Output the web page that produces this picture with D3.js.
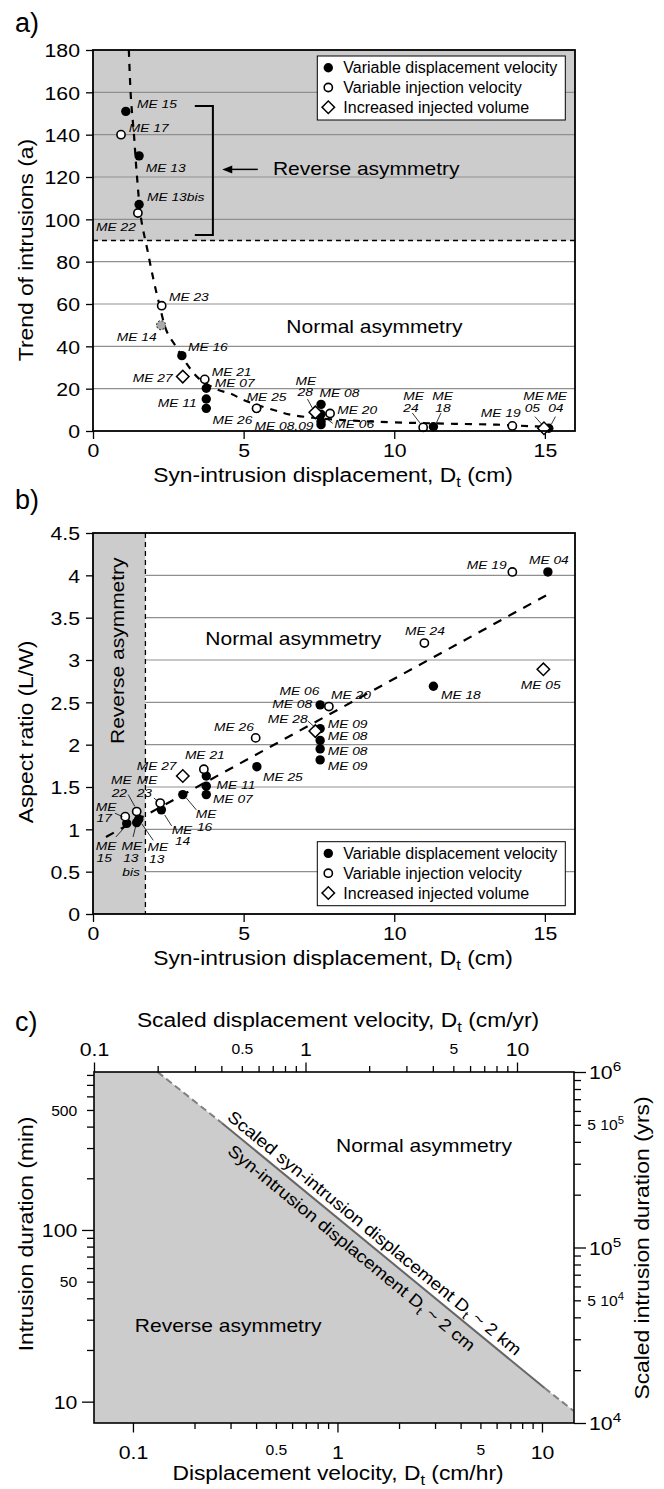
<!DOCTYPE html>
<meta charset="utf-8">
<style>
body { margin: 0; background: #fff; }
svg { font-family: "Liberation Sans", Arial, sans-serif; }
</style>
<svg width="664" height="1489"></svg>
<script src="https://d3js.org/d3.v7.min.js"></script>
<script>

// ---------- data ----------
var legendNames = ["Variable displacement velocity", "Variable injection velocity", "Increased injected volume"];
var legendKinds = ["filled", "open", "diamond"];

// panel a : trend of intrusions vs syn-intrusion displacement
var aXTicks = [0, 5, 10, 15];
var aYTicks = [0, 20, 40, 60, 80, 100, 120, 140, 160, 180];
var aGrid = [20, 40, 60, 80, 100, 120, 140, 160];
var aReverseY = 90;
var aVdvX = [1.09, 1.53, 1.53, 2.95, 3.76, 3.76, 3.76, 5.43, 7.57, 7.57, 7.57, 7.57, 11.3, 15.13];
var aVdvY = [151, 130, 107, 35.6, 20.2, 15.1, 10.7, 10.7, 12.6, 7.9, 4.5, 3.0, 2.0, 1.3];
var aVivX = [0.93, 1.49, 2.28, 3.71, 5.43, 7.87, 10.96, 13.92];
var aVivY = [140, 103, 59.2, 24.4, 10.7, 8.3, 1.7, 2.4];
var aIivX = [2.98, 7.38, 14.97];
var aIivY = [25.7, 8.8, 1.3];
var aUncX = [2.26];           // ME 14, uncertain
var aUncY = [50];
var aFitX = [1.19, 1.26, 1.36, 1.45, 1.6, 1.8, 2.0, 2.2, 2.45, 2.75, 3.1, 3.5, 4.1, 4.6, 5.0, 6.0, 6.6, 7.5, 8.5, 9.4, 10.7, 12.0, 13.4, 14.5, 15.1];
var aFitY = [180, 157, 140, 122, 100, 86, 72, 60, 47, 40, 32, 25, 19.7, 17.5, 14.6, 9.9, 7.6, 6.0, 5.0, 4.4, 3.8, 3.4, 3.0, 2.3, 2.0];
var aLabels = [["ME 15", 1.46, 152.6], ["ME 17", 1.19, 141.1], ["ME 13", 1.75, 122.5], ["ME 13bis", 1.79, 108.8],
  ["ME 22", 0.10, 94.3], ["ME 23", 2.52, 61.5], ["ME 14", 0.79, 42.4], ["ME 16", 3.15, 37.9], ["ME 27", 1.32, 23.0],
  ["ME 21", 3.94, 26.1], ["ME 07", 4.04, 20.6], ["ME 11", 2.15, 11.2], ["ME 25", 5.10, 14.3], ["ME 26", 3.97, 3.3],
  ["ME 08,09", 5.36, 0.7], ["ME", 6.72, 21.6], ["28", 6.79, 16.4], ["ME 08", 7.52, 15.9], ["ME 20", 8.11, 8.0],
  ["ME 06", 8.01, 1.4], ["ME", 10.30, 14.6], ["24", 10.30, 9.0], ["ME", 11.26, 14.6], ["18", 11.36, 9.0],
  ["ME 19", 12.87, 6.8], ["ME", 14.28, 14.6], ["05", 14.33, 9.0], ["ME", 15.05, 14.6], ["04", 15.11, 9.0]];
var aLeaders = [[7.12, 15.1, 7.28, 10.9], [7.74, 6.0, 7.96, 3.6], [10.60, 8.5, 10.88, 3.3], [11.55, 8.5, 11.38, 3.3],
  [14.67, 6.8, 14.89, 3.3], [15.35, 6.8, 15.22, 3.3]];
var aBracketX = [3.38, 3.98];
var aBracketY = [153.5, 92.6];
var aArrowX = [5.47, 4.29];
var aArrowY = 123.6;

// panel b : aspect ratio vs syn-intrusion displacement
var bXTicks = [0, 5, 10, 15];
var bYTicks = [0, 0.5, 1, 1.5, 2, 2.5, 3, 3.5, 4, 4.5];
var bGrid = [0.5, 1, 1.5, 2, 2.5, 3, 3.5, 4];
var bReverseX = 1.74;
var bVdvX = [1.12, 1.52, 1.45, 2.27, 2.98, 3.76, 3.76, 3.76, 5.44, 7.54, 7.54, 7.54, 7.54, 7.54, 11.3, 15.1];
var bVdvY = [1.07, 1.12, 1.08, 1.23, 1.41, 1.41, 1.51, 1.63, 1.74, 2.47, 2.19, 2.05, 1.95, 1.82, 2.69, 4.04];
var bVivX = [1.07, 1.45, 2.23, 3.68, 5.4, 7.83, 11.0, 13.92];
var bVivY = [1.15, 1.21, 1.31, 1.71, 2.08, 2.45, 3.2, 4.04];
var bIivX = [2.98, 7.38, 14.95];
var bIivY = [1.63, 2.16, 2.89];
var bFitX = [0.43, 15.13];
var bFitY = [0.91, 3.78];
var bLabels = [["ME 19", 12.41, 4.07], ["ME 04", 14.47, 4.13], ["ME 24", 10.36, 3.30], ["ME 05", 14.20, 2.66],
  ["ME 18", 11.55, 2.54], ["ME 06", 6.19, 2.59], ["ME 20", 7.90, 2.54], ["ME 08", 5.95, 2.43], ["ME 28", 5.80, 2.26],
  ["ME 09", 7.79, 2.20], ["ME 08", 7.79, 2.06], ["ME 08", 7.79, 1.88], ["ME 09", 7.79, 1.70], ["ME 26", 4.02, 2.16],
  ["ME 25", 5.64, 1.57], ["ME 21", 3.05, 1.83], ["ME 27", 1.45, 1.70], ["ME 11", 4.10, 1.48], ["ME 07", 3.98, 1.31],
  ["ME", 3.41, 1.13], ["16", 3.45, 0.98], ["ME", 2.61, 0.94], ["14", 2.72, 0.81], ["ME", 0.60, 1.53], ["22", 0.62, 1.38],
  ["ME", 1.45, 1.53], ["23", 1.45, 1.38], ["ME", 0.09, 1.22], ["17", 0.12, 1.09], ["ME", 0.09, 0.76], ["15", 0.12, 0.61],
  ["ME", 0.95, 0.76], ["13", 1.00, 0.61], ["bis", 0.97, 0.45], ["ME", 1.81, 0.75], ["13", 1.86, 0.60]];
var bLeaders = [[0.73, 1.19, 0.98, 1.15], [1.17, 1.41, 1.39, 1.27], [2.02, 1.37, 2.16, 1.33], [3.43, 1.23, 3.10, 1.37],
  [2.61, 1.04, 2.38, 1.17], [0.76, 0.91, 1.09, 1.04], [1.33, 0.91, 1.42, 1.04], [2.0, 0.87, 1.61, 1.07], [7.13, 2.28, 7.35, 2.21]];

// panel c : intrusion duration vs displacement velocity (log-log)
var cVelDomain = [0.0645, 14.34];
var cScVelDomain = [0.1, 18.6];
var cDurDomain = [7.51, 832];
var cScDurDomain = [1e4, 1e6];
var cVelTicks = [0.1, 0.2, 0.3, 0.4, 0.5, 0.6, 0.7, 0.8, 0.9, 1, 2, 3, 4, 5, 6, 7, 8, 9, 10];
var cVelLabels = [0.1, 0.5, 1, 5, 10];
var cScVelTicks = [0.1, 0.2, 0.3, 0.4, 0.5, 0.6, 0.7, 0.8, 0.9, 1, 2, 3, 4, 5, 6, 7, 8, 9, 10];
var cScVelLabels = [0.1, 0.5, 1, 5, 10];
var cDurTicks = [10, 20, 30, 40, 50, 60, 70, 80, 90, 100, 200, 300, 400, 500, 600, 700, 800];
var cDurLabels = [10, 50, 100, 500];
var cScDurTicks = [1e4, 2e4, 3e4, 4e4, 5e4, 6e4, 7e4, 8e4, 9e4, 1e5, 2e5, 3e5, 4e5, 5e5, 6e5, 7e5, 8e5, 9e5, 1e6];
var cScDurLabels = [1e4, 5e4, 1e5, 5e5, 1e6];
var cBoundV = [0.132, 0.272, 10.3, 14.3];   // boundary D_t ~ 2 cm
var cBoundT = [832, 420, 12.0, 8.83];
var cNormalPos = [2.65, 286];
var cReversePos = [0.292, 25.6];

// ---------- layout ----------
var L = 93, R = 575;
var aTop = 50, aBot = 431;
var bTop = 533, bBot = 914;
var cL = 94, cR = 574, cTop = 1072, cBot = 1423;
var GRAY = "#cccccc";

var svg = d3.select("svg");

function addText(g, x, y, content, o) {
  o = o || {};
  var size = o.size || 17;
  var t = g.append("text")
    .attr("transform", "translate(" + x + "," + y + ")" + (o.rot ? " rotate(" + o.rot + ")" : "") + " scale(" + (o.sx || 1) + ",1)")
    .attr("font-size", size)
    .attr("fill", "#000")
    .attr("text-anchor", o.anchor || "start");
  if (o.italic) t.attr("font-style", "italic");
  var parts = typeof content === "string" ? [content] : content;
  var shift = 0;
  parts.forEach(function(p) {
    var s = typeof p === "string" ? { t: p } : p;
    var ts = t.append("tspan").text(s.t);
    var target = s.sub ? 0.25 * size : s.sup ? -0.42 * size : 0;
    if (target !== shift) { ts.attr("dy", target - shift); shift = target; }
    if (s.sub || s.sup) ts.attr("font-size", size * 0.72);
  });
  return t;
}

function marker(g, cx, cy, kind) {
  if (kind === "diamond") {
    g.append("path").attr("d", d3.symbol(d3.symbolSquare, 78)())
      .attr("transform", "translate(" + cx + "," + cy + ") rotate(45)")
      .attr("fill", "#fff").attr("stroke", "#000").attr("stroke-width", 1.5);
  } else if (kind === "filled") {
    g.append("circle").attr("cx", cx).attr("cy", cy).attr("r", 4.7).attr("fill", "#000");
  } else if (kind === "open") {
    g.append("circle").attr("cx", cx).attr("cy", cy).attr("r", 4.1)
      .attr("fill", "#fff").attr("stroke", "#000").attr("stroke-width", 1.6);
  } else {
    g.append("circle").attr("cx", cx).attr("cy", cy).attr("r", 4.5)
      .attr("fill", "#aaa").attr("stroke", "#444").attr("stroke-width", 1.1).attr("stroke-dasharray", "2,1.5");
  }
}

function points(g, xs, ys, kind, x, y) {
  d3.zip(xs, ys).forEach(function(d) { marker(g, x(d[0]), y(d[1]), kind); });
}

function legend(g, x0, y0) {
  var lg = g.append("g").attr("transform", "translate(" + x0 + "," + y0 + ")");
  lg.append("rect").attr("width", 248).attr("height", 64)
    .attr("fill", "#fff").attr("stroke", "#000").attr("stroke-width", 1);
  legendNames.forEach(function(name, i) {
    var cy = 11.7 + i * 19.8;
    marker(lg, 11, cy, legendKinds[i]);
    addText(lg, 26, cy + 5.7, name, { size: 16 });
  });
}

function tidyAxis(g, side, size, sx, off) {
  g.attr("font-family", null).attr("font-size", size);
  g.select(".domain").remove();
  g.selectAll(".tick line").attr("stroke-width", 1.3);
  g.selectAll(".tick text").each(function(d) {
    var t = d3.select(this);
    var o = typeof off === "function" ? off(d) : off;
    t.attr("x", null).attr("y", null).attr("dy", null);
    if (side === "left" || side === "right") {
      t.attr("dy", "0.36em").attr("transform", "translate(" + o + ",0) scale(" + sx + ",1)");
    } else {
      t.attr("transform", "translate(0," + o + ") scale(" + sx + ",1)");
    }
  });
}

function labels(g, list, x, y) {
  list.forEach(function(d) {
    addText(g, x(d[1]), y(d[2]), d[0], { size: 11.5, sx: 1.2, italic: true });
  });
}

function leaders(g, list, x, y) {
  g.selectAll(null).data(list).enter().append("line")
    .attr("x1", function(d) { return x(d[0]); }).attr("y1", function(d) { return y(d[1]); })
    .attr("x2", function(d) { return x(d[2]); }).attr("y2", function(d) { return y(d[3]); })
    .attr("stroke", "#000").attr("stroke-width", 0.8);
}

var TICK = 19, TSX = 1.12, TITLE = 19.5, TTSX = 1.17, REG = 17.5, RSX = 1.2;

// ================= panel a =================
var xA = d3.scaleLinear().domain([0, 16]).range([L, R]);
var yA = d3.scaleLinear().domain([0, 180]).range([aBot, aTop]);
var ga = svg.append("g");

ga.append("rect").attr("x", L).attr("y", aTop).attr("width", R - L)
  .attr("height", yA(aReverseY) - aTop).attr("fill", GRAY);
ga.selectAll(null).data(aGrid).enter().append("line")
  .attr("x1", L).attr("x2", R).attr("y1", yA).attr("y2", yA)
  .attr("stroke", "#8f8f8f").attr("stroke-width", 1.1);
ga.append("line").attr("x1", L).attr("x2", R).attr("y1", yA(aReverseY)).attr("y2", yA(aReverseY))
  .attr("stroke", "#000").attr("stroke-width", 1.3).attr("stroke-dasharray", "5,4");

var axAx = ga.append("g").attr("transform", "translate(0," + aBot + ")")
  .call(d3.axisBottom(xA).tickValues(aXTicks).tickSize(8).tickSizeOuter(0).tickFormat(d3.format("d")));
tidyAxis(axAx, "bottom", TICK, TSX, 26);
var axAy = ga.append("g").attr("transform", "translate(" + L + ",0)")
  .call(d3.axisLeft(yA).tickValues(aYTicks).tickSize(7).tickSizeOuter(0).tickFormat(d3.format("d")));
tidyAxis(axAy, "left", TICK, TSX, -13);

svg.append("defs").append("clipPath").attr("id", "clipA")
  .append("rect").attr("x", L).attr("y", aTop).attr("width", R - L).attr("height", aBot - aTop);
ga.append("path").attr("clip-path", "url(#clipA)")
  .attr("d", d3.line().x(function(d) { return xA(d[0]); }).y(function(d) { return yA(d[1]); })
    .curve(d3.curveCatmullRom)(d3.zip(aFitX, aFitY)))
  .attr("fill", "none").attr("stroke", "#000").attr("stroke-width", 2.2).attr("stroke-dasharray", "7,7");

// bracket and arrow
ga.append("path")
  .attr("d", "M" + xA(aBracketX[0]) + "," + yA(aBracketY[0]) + "H" + xA(aBracketX[1]) +
    "V" + yA(aBracketY[1]) + "H" + xA(aBracketX[0]))
  .attr("fill", "none").attr("stroke", "#000").attr("stroke-width", 2);
ga.append("line").attr("x1", xA(aArrowX[0])).attr("x2", xA(aArrowX[1]) + 8)
  .attr("y1", yA(aArrowY)).attr("y2", yA(aArrowY)).attr("stroke", "#000").attr("stroke-width", 1.5);
ga.append("path")
  .attr("d", "M" + xA(aArrowX[1]) + "," + yA(aArrowY) + "l10,-4l0,8z").attr("fill", "#000");

points(ga, aVdvX, aVdvY, "filled", xA, yA);
points(ga, aVivX, aVivY, "open", xA, yA);
points(ga, aIivX, aIivY, "diamond", xA, yA);
points(ga, aUncX, aUncY, "uncertain", xA, yA);
leaders(ga, aLeaders, xA, yA);
labels(ga, aLabels, xA, yA);

addText(ga, xA(9.07), yA(120.9), "Reverse asymmetry", { size: REG, sx: RSX, anchor: "middle" });
addText(ga, xA(9.34), yA(46.3), "Normal asymmetry", { size: REG, sx: RSX, anchor: "middle" });
legend(ga, R - 257.7, aTop + 6);

ga.append("rect").attr("x", L).attr("y", aTop).attr("width", R - L).attr("height", aBot - aTop)
  .attr("fill", "none").attr("stroke", "#000").attr("stroke-width", 1.8);

addText(ga, 15, 31.5, "a)", { size: 27 });
addText(ga, 333, 482, ["Syn-intrusion displacement, D", { t: "t", sub: true }, " (cm)"], { size: TITLE, sx: TTSX, anchor: "middle" });
addText(ga, 33, 250, "Trend of intrusions (a)", { size: TITLE, sx: TTSX, anchor: "middle", rot: -90 });

// ================= panel b =================
var xB = d3.scaleLinear().domain([0, 16]).range([L, R]);
var yB = d3.scaleLinear().domain([0, 4.5]).range([bBot, bTop]);
var gb = svg.append("g");

gb.selectAll(null).data(bGrid).enter().append("line")
  .attr("x1", L).attr("x2", R).attr("y1", yB).attr("y2", yB)
  .attr("stroke", "#8f8f8f").attr("stroke-width", 1.1);
gb.append("rect").attr("x", L).attr("y", bTop).attr("width", xB(bReverseX) - L)
  .attr("height", bBot - bTop).attr("fill", GRAY);
gb.append("line").attr("x1", xB(bReverseX)).attr("x2", xB(bReverseX)).attr("y1", bTop).attr("y2", bBot)
  .attr("stroke", "#000").attr("stroke-width", 1.3).attr("stroke-dasharray", "5,4");

var axBx = gb.append("g").attr("transform", "translate(0," + bBot + ")")
  .call(d3.axisBottom(xB).tickValues(bXTicks).tickSize(8).tickSizeOuter(0).tickFormat(d3.format("d")));
tidyAxis(axBx, "bottom", TICK, TSX, 26);
var axBy = gb.append("g").attr("transform", "translate(" + L + ",0)")
  .call(d3.axisLeft(yB).tickValues(bYTicks).tickSize(7).tickSizeOuter(0).tickFormat(function(d) { return String(d); }));
tidyAxis(axBy, "left", TICK, TSX, -13);

gb.append("path")
  .attr("d", d3.line().x(function(d) { return xB(d[0]); }).y(function(d) { return yB(d[1]); })(d3.zip(bFitX, bFitY)))
  .attr("fill", "none").attr("stroke", "#000").attr("stroke-width", 2.2).attr("stroke-dasharray", "9,8");

points(gb, bVdvX, bVdvY, "filled", xB, yB);
points(gb, bVivX, bVivY, "open", xB, yB);
points(gb, bIivX, bIivY, "diamond", xB, yB);
leaders(gb, bLeaders, xB, yB);
labels(gb, bLabels, xB, yB);

addText(gb, xB(6.65), yB(3.18), "Normal asymmetry", { size: REG, sx: RSX, anchor: "middle" });
addText(gb, xB(1.03), yB(3.11), "Reverse asymmetry", { size: REG, sx: RSX, anchor: "middle", rot: -90 });
legend(gb, R - 257.7, bBot - 72.3);

gb.append("rect").attr("x", L).attr("y", bTop).attr("width", R - L).attr("height", bBot - bTop)
  .attr("fill", "none").attr("stroke", "#000").attr("stroke-width", 1.8);

addText(gb, 15, 509, "b)", { size: 27 });
addText(gb, 333, 965, ["Syn-intrusion displacement, D", { t: "t", sub: true }, " (cm)"], { size: TITLE, sx: TTSX, anchor: "middle" });
addText(gb, 33, 732, "Aspect ratio (L/W)", { size: TITLE, sx: TTSX, anchor: "middle", rot: -90 });

// ================= panel c =================
var xC = d3.scaleLog().domain(cVelDomain).range([cL, cR]);
var xC2 = d3.scaleLog().domain(cScVelDomain).range([cL, cR]);
var yC = d3.scaleLog().domain(cDurDomain).range([cBot, cTop]);
var yC2 = d3.scaleLog().domain(cScDurDomain).range([cBot, cTop]);
var gc = svg.append("g");

var bound = d3.zip(cBoundV, cBoundT);
var poly = [[cVelDomain[0], cDurDomain[1]]].concat(bound)
  .concat([[cVelDomain[1], cDurDomain[0]], [cVelDomain[0], cDurDomain[0]]]);
var lineC = d3.line().x(function(d) { return xC(d[0]); }).y(function(d) { return yC(d[1]); });
gc.append("path").attr("d", lineC(poly) + "Z").attr("fill", GRAY);
gc.append("path").attr("d", lineC(bound.slice(0, 2)) + lineC(bound.slice(2, 4)))
  .attr("fill", "none").attr("stroke", "#808080").attr("stroke-width", 2).attr("stroke-dasharray", "7,4");
gc.append("path").attr("d", lineC(bound.slice(1, 3)))
  .attr("fill", "none").attr("stroke", "#666").attr("stroke-width", 2);

function isLab(list, d) { return list.some(function(v) { return Math.abs(v - d) / v < 1e-6; }); }
function isMajor(d) { return Math.abs(Math.log10(d) - Math.round(Math.log10(d))) < 1e-6; }
function lab(list) { return function(d) { return isLab(list, d) ? String(d) : ""; }; }

var axCb = gc.append("g").attr("transform", "translate(0," + cBot + ")")
  .call(d3.axisBottom(xC).tickValues(cVelTicks).tickSizeOuter(0).tickFormat(lab(cVelLabels)));
tidyAxis(axCb, "bottom", TICK, TSX, function(d) { return isMajor(d) ? 36 : 32; });
axCb.selectAll(".tick line").attr("y2", function(d) { return isMajor(d) ? 9.5 : 6; });
axCb.selectAll(".tick text").attr("font-size", function(d) { return isMajor(d) ? TICK : 14; });

var axCt = gc.append("g").attr("transform", "translate(0," + cTop + ")")
  .call(d3.axisTop(xC2).tickValues(cScVelTicks).tickSizeOuter(0).tickFormat(lab(cScVelLabels)));
tidyAxis(axCt, "top", TICK, TSX, function(d) { return isMajor(d) ? -16 : -18; });
axCt.selectAll(".tick line").attr("y2", function(d) { return isMajor(d) ? -9.5 : -6; });
axCt.selectAll(".tick text").attr("font-size", function(d) { return isMajor(d) ? TICK : 14; });

var axCl = gc.append("g").attr("transform", "translate(" + cL + ",0)")
  .call(d3.axisLeft(yC).tickValues(cDurTicks).tickSizeOuter(0).tickFormat(lab(cDurLabels)));
tidyAxis(axCl, "left", TICK, TSX, -16.7);
axCl.selectAll(".tick line").attr("x2", function(d) { return isMajor(d) ? -12 : -7; });
axCl.selectAll(".tick text").attr("font-size", function(d) { return isMajor(d) ? TICK : 14; });

var axCr = gc.append("g").attr("transform", "translate(" + cR + ",0)")
  .call(d3.axisRight(yC2).tickValues(cScDurTicks).tickSizeOuter(0).tickFormat(function() { return ""; }));
tidyAxis(axCr, "right", TICK, TSX, 15);
axCr.selectAll(".tick line").attr("x2", function(d) { return isMajor(d) ? 12 : 7; });
axCr.selectAll(".tick").each(function(d) {
  if (!isLab(cScDurLabels, d)) return;
  var e = Math.floor(Math.log10(d) + 1e-9), m = Math.round(d / Math.pow(10, e));
  var big = m === 1;
  var size = big ? TICK : 14;
  addText(d3.select(this), big ? 15 : 13.3, size * 0.36,
    [(big ? "" : m + " ") + "10", { t: String(e), sup: true }], { size: size, sx: TSX });
});

gc.append("rect").attr("x", cL).attr("y", cTop).attr("width", cR - cL).attr("height", cBot - cTop)
  .attr("fill", "none").attr("stroke", "#000").attr("stroke-width", 1.6);

// labels along the boundary
var p1 = [xC(cBoundV[1]), yC(cBoundT[1])], p2 = [xC(cBoundV[2]), yC(cBoundT[2])];
var ang = Math.atan2(p2[1] - p1[1], p2[0] - p1[0]);
function along(f, off) {
  return [p1[0] + (p2[0] - p1[0]) * f - Math.sin(ang) * off, p1[1] + (p2[1] - p1[1]) * f + Math.cos(ang) * off];
}
var s1 = along(0.45, -6), s2 = along(0.43, 20);
addText(gc, s1[0], s1[1], ["Scaled syn-intrusion displacement D", { t: "t", sub: true }, " ~ 2 km"],
  { size: 17, sx: 1.12, anchor: "middle", rot: ang * 180 / Math.PI });
addText(gc, s2[0], s2[1], ["Syn-intrusion displacement D", { t: "t", sub: true }, " ~ 2 cm"],
  { size: 17, sx: 1.12, anchor: "middle", rot: ang * 180 / Math.PI });

addText(gc, xC(cNormalPos[0]), yC(cNormalPos[1]), "Normal asymmetry", { size: REG, sx: RSX, anchor: "middle" });
addText(gc, xC(cReversePos[0]), yC(cReversePos[1]), "Reverse asymmetry", { size: REG, sx: RSX, anchor: "middle" });

addText(gc, 15, 1031, "c)", { size: 27 });
addText(gc, 338, 1027, ["Scaled displacement velocity, D", { t: "t", sub: true }, " (cm/yr)"], { size: TITLE, sx: TTSX, anchor: "middle" });
addText(gc, 338, 1480, ["Displacement velocity, D", { t: "t", sub: true }, " (cm/hr)"], { size: TITLE, sx: TTSX, anchor: "middle" });
addText(gc, 33, 1234, "Intrusion duration (min)", { size: TITLE, sx: TTSX, anchor: "middle", rot: -90 });
addText(gc, 649, 1248, "Scaled intrusion duration (yrs)", { size: TITLE, sx: TTSX, anchor: "middle", rot: -90 });

</script>
